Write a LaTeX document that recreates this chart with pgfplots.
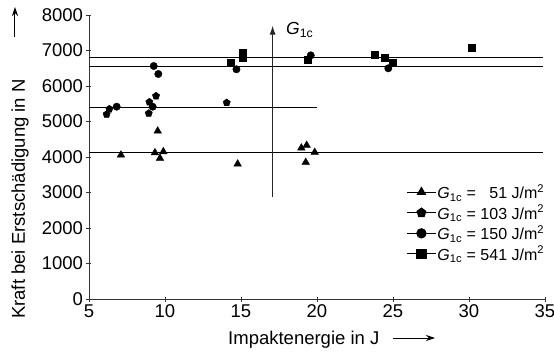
\documentclass[border=0pt]{standalone}
\usepackage{fontspec}
\setmainfont{Liberation Sans}
\usepackage{graphicx}
\usepackage{pgfplots}
\pgfplotsset{compat=1.18}
\usetikzlibrary{arrows.meta}

\begin{document}
\begin{tikzpicture}
\useasboundingbox (-89pt,-57pt) rectangle (465pt,299pt);
\begin{axis}[
  at={(0pt,0pt)}, anchor=south west,
  scale only axis, width=456pt, height=284pt,
  xmin=5, xmax=35, ymin=0, ymax=8000,
  axis x line=bottom, axis y line=left,
  axis line style={-, draw=black!80, line width=0.9pt},
  xtick={5,10,...,35}, ytick={0,1000,...,8000},
  tick align=center, major tick length=5pt,
  tick style={black!80, line width=0.9pt},
  /pgf/number format/assume math mode=true,
  scaled y ticks=false,
  y tick label style={/pgf/number format/1000 sep={}},
  ticklabel style={font=\fontsize{18.5}{20}\selectfont},
  clip=false,
  legend style={at={(0.689,0.415)}, anchor=north west, draw=none, fill=none,
    font=\fontsize{16}{18}\selectfont, row sep=3pt,
    nodes={inner sep=1pt}},
  legend cell align=left,
  legend image code/.code={\draw[sharp plot, line width=1.1pt, mark repeat=2, mark phase=2, mark size=4.6pt]
     plot coordinates {(0pt,0pt) (14.5pt,0pt) (29pt,0pt)};},
]
% horizontal reference lines
\addplot[black, line width=1.1pt, forget plot] coordinates {(5,6808) (34.9,6808)};
\addplot[black, line width=1.1pt, forget plot] coordinates {(5,6540) (34.9,6540)};
\addplot[black, line width=1.1pt, forget plot] coordinates {(5,5390) (20,5390)};
\addplot[black, line width=1.1pt, forget plot] coordinates {(5,4130) (34.9,4130)};

\addplot[black, only marks, mark=triangle*, mark size=4.4pt] coordinates {
 (7.1,4056) (9.52,4732) (9.34,4121) (9.89,4150) (9.67,3963) (14.78,3803)
 (18.97,4254) (19.32,4329) (19.85,4132) (19.26,3850)};
\addlegendentry{\textit{G}\textsubscript{1c} = \phantom{1}51 J/m\textsuperscript{2}}

\addplot[black, only marks, mark=pentagon*, mark size=3.8pt] coordinates {
 (6.16,5202) (6.34,5352) (8.97,5549) (9.41,5718) (8.93,5230) (14.06,5530)};
\addlegendentry{\textit{G}\textsubscript{1c} = 103 J/m\textsuperscript{2}}

\addplot[black, only marks, mark=*, mark size=3.7pt] coordinates {
 (6.82,5417) (9.19,5417) (9.26,6563) (9.56,6338) (14.7,6470) (19.59,6864) (24.69,6498)};
\addlegendentry{\textit{G}\textsubscript{1c} = 150 J/m\textsuperscript{2}}

\addplot[black, only marks, mark=square*, mark size=3.6pt] coordinates {
 (14.32,6656) (15.09,6938) (15.09,6808) (19.39,6732) (23.82,6873) (24.43,6808)
 (24.98,6656) (30.18,7090)};
\addlegendentry{\textit{G}\textsubscript{1c} = 541 J/m\textsuperscript{2}}

\draw[black!85, line width=1pt, -{Latex[length=9pt,width=6pt]}] (axis cs:17.08,2880) -- (axis cs:17.08,7700);
\end{axis}
\node[anchor=base west, inner sep=0pt, font=\fontsize{17.5}{19}\selectfont] at (197pt,264pt) {\textit{G}\textsubscript{1c}};
\node[anchor=base west, inner sep=0pt, font=\fontsize{18.5}{20}\selectfont] at (139pt,-45pt) {Impaktenergie in J};
\draw[line width=1pt, -{Stealth[length=9pt,width=6pt]}] (304pt,-39pt) -- (346pt,-39pt);
\node[anchor=base, rotate=90, inner sep=0pt, font=\fontsize{18.5}{20}\selectfont] at (-64pt,100pt) {Kraft bei Erstschädigung in N};
\draw[line width=1pt, -{Stealth[length=9pt,width=6pt]}] (-74pt,262pt) -- (-74pt,292pt);
\end{tikzpicture}
\end{document}
